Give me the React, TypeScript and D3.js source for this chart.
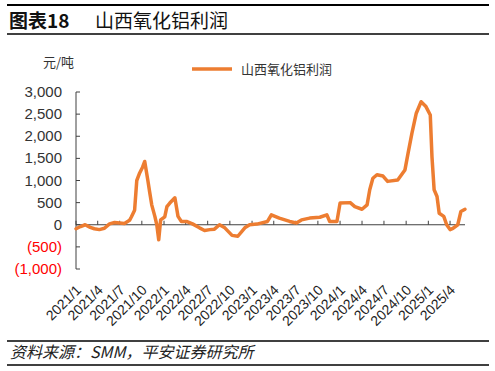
import React from "react";
import * as d3 from "d3";

const dates: string[] = [
  "2021-01-01","2021-01-20","2021-02-08","2021-03-01","2021-03-18","2021-04-08","2021-04-29","2021-05-20","2021-06-10","2021-07-01","2021-07-21","2021-08-11","2021-08-19","2021-09-01","2021-09-10","2021-09-22","2021-10-04","2021-10-13","2021-10-26","2021-11-03","2021-11-11","2021-11-24","2021-12-02","2021-12-10","2021-12-18","2022-01-04","2022-01-13","2022-01-25","2022-02-15","2022-02-28","2022-03-14","2022-04-04","2022-04-29","2022-05-28","2022-06-18","2022-07-10","2022-07-29","2022-08-19","2022-09-10","2022-10-10","2022-11-03","2022-12-02","2022-12-22","2023-01-21","2023-03-06","2023-03-22","2023-04-24","2023-06-06","2023-07-04","2023-07-25","2023-08-28","2023-10-09","2023-11-07","2023-11-19","2023-12-19","2024-01-01","2024-02-12","2024-03-02","2024-04-01","2024-04-22","2024-05-03","2024-05-16","2024-06-02","2024-06-27","2024-07-16","2024-08-27","2024-09-17","2024-09-26","2024-10-09","2024-10-25","2024-11-12","2024-12-02","2024-12-22","2025-01-09","2025-01-16","2025-01-25","2025-02-06","2025-02-15","2025-03-06","2025-03-18","2025-04-01","2025-04-13","2025-05-03","2025-05-16","2025-06-02"
];
const profits: number[] = [
  -90,-40,0,-60,-90,-110,-80,20,50,40,30,100,180,330,1000,1170,1300,1430,1000,720,450,190,0,-340,110,180,410,490,610,190,75,75,20,-70,-130,-110,-100,0,-70,-240,-260,-70,0,15,75,225,150,75,40,110,150,170,225,75,75,490,500,410,350,450,790,1050,1130,1100,980,1010,1170,1240,1620,2070,2520,2780,2670,2480,1540,790,640,260,190,0,-110,-80,0,300,350
];
const yTicks: number[] = [-1000, -500, 0, 500, 1000, 1500, 2000, 2500, 3000];
const xTickLabels: string[] = [
  "2021/1","2021/4","2021/7","2021/10","2022/1","2022/4","2022/7","2022/10","2023/1","2023/4","2023/7","2023/10","2024/1","2024/4","2024/7","2024/10","2025/1","2025/4"
];
const seriesName = "山西氧化铝利润";

const CN = "'Noto Sans CJK SC', 'Liberation Sans', Arial, sans-serif";
const LAT = "'Liberation Sans', Arial, 'Noto Sans CJK SC', sans-serif";

export default function App() {
  const parse = d3.timeParse("%Y-%m-%d");
  const data = dates.map((d, i) => ({ date: parse(d) as Date, value: profits[i] }));
  const x = d3.scaleTime()
    .domain([parse("2021-01-01") as Date, parse("2025-06-02") as Date])
    .range([76, 465]);
  const y = d3.scaleLinear().domain([-1000, 3000]).range([269, 92]);
  const line = d3.line<{ date: Date; value: number }>()
    .x(d => x(d.date))
    .y(d => y(d.value));
  const tickDates = xTickLabels.map(l => {
    const [yy, mm] = l.split("/").map(Number);
    return new Date(yy, mm - 1, 1);
  });
  const fmt = (v: number) => {
    const s = d3.format(",")(Math.abs(v));
    return v < 0 ? `(${s})` : s;
  };
  const axisColor = "#404040";
  return (
    <svg width={495} height={371} style={{ position: "absolute", left: 0, top: 0, background: "#fff" }}>
      {/* header */}
      <line x1={7} x2={489} y1={5} y2={5} stroke="#000" strokeWidth={2} />
      <text x={9} y={28} fontFamily={CN} fontSize={19} fontWeight="bold" fill="#111">图表18</text>
      <text x={95} y={28} fontFamily={CN} fontSize={19} fill="#111">{seriesName}</text>
      <line x1={7} x2={489} y1={34} y2={34} stroke="#000" strokeWidth={1.5} />

      {/* unit & legend */}
      <text x={43} y={67} fontFamily={CN} fontSize={13} fill="#333">元/吨</text>
      <line x1={192} x2={232} y1={69} y2={69} stroke="#ED7D31" strokeWidth={3.5} />
      <text x={241} y={73.5} fontFamily={CN} fontSize={13} fill="#333">{seriesName}</text>

      {/* y axis */}
      <line x1={76} x2={76} y1={y(3000)} y2={y(-1000)} stroke={axisColor} strokeWidth={1} />
      {yTicks.map(t => (
        <g key={t}>
          <line x1={76} x2={80} y1={y(t)} y2={y(t)} stroke={axisColor} strokeWidth={1} />
          <text x={62} y={y(t) + 5} textAnchor="end" fontFamily={LAT} fontSize={15}
            fill={t < 0 ? "#FF0000" : "#333"}>{fmt(t)}</text>
        </g>
      ))}

      {/* x axis at zero */}
      <line x1={76} x2={465} y1={y(0)} y2={y(0)} stroke={axisColor} strokeWidth={1} />
      {tickDates.map((d, i) => (
        <g key={i}>
          <line x1={x(d)} x2={x(d)} y1={y(0)} y2={y(0) - 4} stroke={axisColor} strokeWidth={1} />
          <text transform={`translate(${x(d) + 6},${291}) rotate(-45)`} textAnchor="end"
            fontFamily={LAT} fontSize={14} fill="#222">{xTickLabels[i]}</text>
        </g>
      ))}

      {/* series */}
      <path d={line(data) || ""} fill="none" stroke="#ED7D31" strokeWidth={3.5} strokeLinejoin="round" strokeLinecap="round" />

      {/* footer */}
      <line x1={7} x2={489} y1={341} y2={341} stroke="#000" strokeWidth={1.5} />
      <text x={10} y={358} fontFamily={CN} fontSize={16} fontStyle="italic" fill="#222">资料来源：SMM，平安证券研究所</text>
      <line x1={7} x2={489} y1={365} y2={365} stroke="#000" strokeWidth={1.5} />
    </svg>
  );
}
